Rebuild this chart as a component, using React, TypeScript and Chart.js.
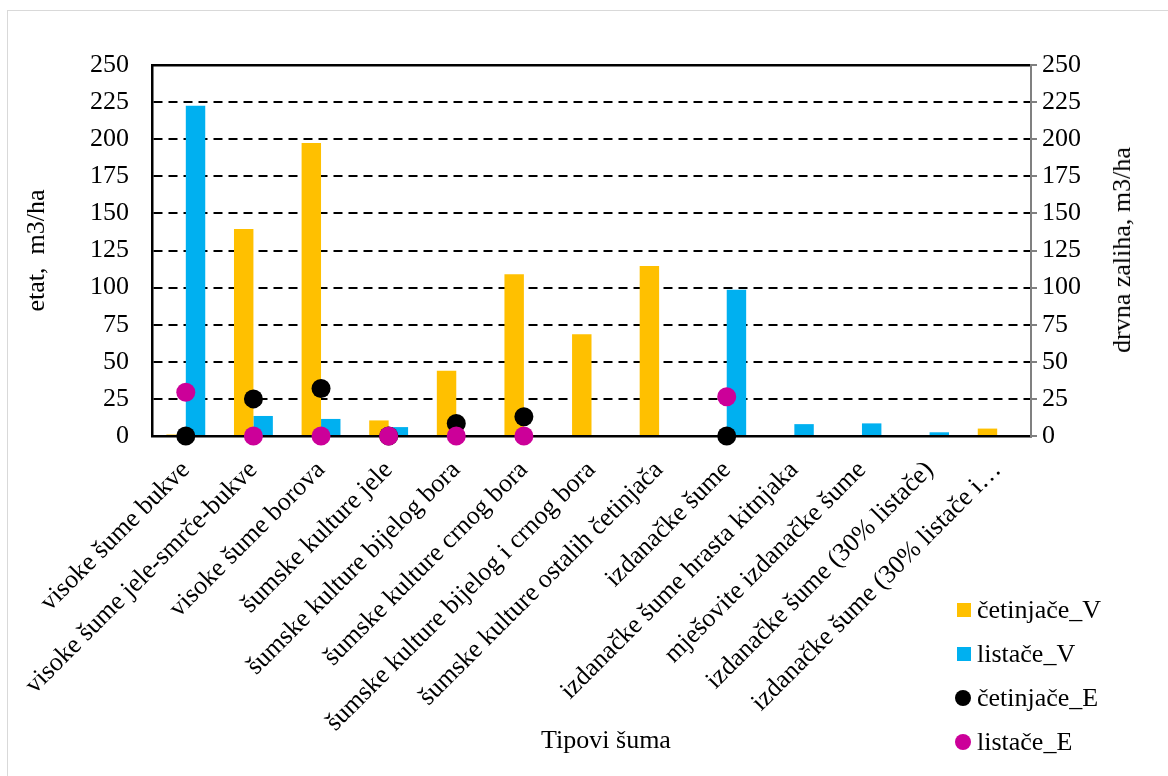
import React, { useEffect, useRef } from 'react';
import { Chart, registerables } from 'chart.js';

Chart.register(...registerables);

const categories = [
    'visoke šume bukve',
    'visoke šume jele-smrče-bukve',
    'visoke šume borova',
    'šumske kulture jele',
    'šumske kulture bijelog bora',
    'šumske kulture crnog bora',
    'šumske kulture bijelog i crnog bora',
    'šumske kulture ostalih četinjača',
    'izdanačke šume',
    'izdanačke šume hrasta kitnjaka',
    'mješovite izdanačke šume',
    'izdanačke šume (30% listače)',
    'izdanačke šume (30% listače i…',
];

// etat (left axis), bars
const cetinjaceV = [1, 139.5, 197.5, 10.5, 44, 109, 68.5, 114.5, 0, 0, 0, 0, 5];
const listaceV = [222.5, 13.5, 11.5, 6, 0, 0, 0, 0, 98.5, 8, 8.5, 2.5, 0];

// drvna zaliha (right axis), points
const cetinjaceE = [0, 25, 32, 0, 8.5, 13, null, null, 0, null, null, null, null];
const listaceE = [29.5, 0, 0, 0, 0, 0, null, null, 26.5, null, null, null, null];

const axisMin = 0;
const axisMax = 250;
const axisStep = 25;

const YELLOW = '#FFC000';
const BLUE = '#00B0F0';
const BLACK = '#000000';
const MAGENTA = '#CC0099';
const FONT = "'Liberation Serif', 'Times New Roman', serif";

const legendItems = [
    { label: 'četinjače_V', color: YELLOW, round: false },
    { label: 'listače_V', color: BLUE, round: false },
    { label: 'četinjače_E', color: BLACK, round: true },
    { label: 'listače_E', color: MAGENTA, round: true },
];

export default function App() {
    const canvasRef = useRef<HTMLCanvasElement>(null);

    useEffect(() => {
        if (!canvasRef.current) return;
        const tickFont = { family: FONT, size: 26 };
        const chart = new Chart(canvasRef.current, {
            type: 'bar',
            data: {
                labels: categories,
                datasets: [
                    {
                        type: 'line',
                        label: 'listače_E',
                        data: listaceE,
                        yAxisID: 'y2',
                        showLine: false,
                        pointRadius: 9.5,
                        pointBorderWidth: 0,
                        pointBackgroundColor: MAGENTA,
                        backgroundColor: MAGENTA,
                        borderColor: MAGENTA,
                        clip: false,
                        order: 1,
                    },
                    {
                        type: 'line',
                        label: 'četinjače_E',
                        data: cetinjaceE,
                        yAxisID: 'y2',
                        showLine: false,
                        pointRadius: 9.5,
                        pointBorderWidth: 0,
                        pointBackgroundColor: BLACK,
                        backgroundColor: BLACK,
                        borderColor: BLACK,
                        clip: false,
                        order: 2,
                    },
                    {
                        label: 'četinjače_V',
                        data: cetinjaceV,
                        yAxisID: 'y',
                        backgroundColor: YELLOW,
                        categoryPercentage: 0.575,
                        barPercentage: 1,
                        order: 3,
                    },
                    {
                        label: 'listače_V',
                        data: listaceV,
                        yAxisID: 'y',
                        backgroundColor: BLUE,
                        categoryPercentage: 0.575,
                        barPercentage: 1,
                        order: 3,
                    },
                ] as any,
            },
            options: {
                responsive: true,
                maintainAspectRatio: false,
                animation: false,
                layout: { padding: { top: 65, left: 0, right: 0, bottom: 0 } },
                plugins: {
                    legend: { display: false },
                    tooltip: { enabled: false },
                },
                scales: {
                    x: {
                        position: 'bottom',
                        grid: { display: false },
                        border: { color: BLACK, width: 2.5 },
                        ticks: {
                            autoSkip: false,
                            minRotation: 45,
                            maxRotation: 45,
                            padding: 11,
                            color: BLACK,
                            font: tickFont,
                        },
                        afterFit: (scale: any) => { scale.height = 340; },
                    },
                    xTop: {
                        position: 'top',
                        grid: { display: false, drawTicks: false },
                        border: { color: BLACK, width: 2.5 },
                        ticks: { display: false },
                        afterFit: (scale: any) => { scale.height = 0; },
                    },
                    y: {
                        position: 'left',
                        min: axisMin,
                        max: axisMax,
                        ticks: { stepSize: axisStep, padding: 23, color: BLACK, font: tickFont },
                        grid: {
                            drawTicks: false,
                            lineWidth: 2,
                            color: (ctx: any) =>
                                ctx.tick && (ctx.tick.value === axisMin || ctx.tick.value === axisMax)
                                    ? 'rgba(0,0,0,0)'
                                    : BLACK,
                        },
                        border: { color: BLACK, width: 2.5, dash: [9, 6] },
                        title: {
                            display: true,
                            text: 'etat,  m3/ha',
                            color: BLACK,
                            font: { family: FONT, size: 26 },
                            padding: { top: 22, bottom: 0 },
                        },
                        afterFit: (scale: any) => { scale.width = 152; },
                    },
                    y2: {
                        position: 'right',
                        min: axisMin,
                        max: axisMax,
                        ticks: { stepSize: axisStep, padding: 5, color: BLACK, font: tickFont },
                        grid: {
                            drawOnChartArea: false,
                            drawTicks: true,
                            tickLength: 6,
                            tickColor: '#808080',
                            lineWidth: 2,
                        },
                        border: { color: '#808080', width: 2 },
                        afterFit: (scale: any) => { scale.width = 137; },
                    },
                },
            } as any,
        });
        return () => chart.destroy();
    }, []);

    return (
        <div style={{ position: 'absolute', left: 0, top: 0, width: 1168, height: 776, background: '#fff', overflow: 'hidden', fontFamily: FONT }}>
            <div style={{ position: 'absolute', left: 7, top: 10, width: 1170, height: 780, borderLeft: '1.5px solid #d9d9d9', borderTop: '1.5px solid #d9d9d9' }} />
            <div style={{ position: 'absolute', left: 0, top: 0, width: 1168, height: 776 }}>
                <canvas ref={canvasRef}></canvas>
            </div>
            <div style={{ position: 'absolute', left: 1122, top: 250, transform: 'translate(-50%, -50%) rotate(-90deg)', whiteSpace: 'nowrap', fontSize: 26, color: BLACK }}>
                drvna zaliha, m3/ha
            </div>
            <div style={{ position: 'absolute', left: 606, top: 740, transform: 'translate(-50%, -50%)', whiteSpace: 'nowrap', fontSize: 26, color: BLACK }}>
                Tipovi šuma
            </div>
            {legendItems.map((item, i) => (
                <div key={item.label} style={{ position: 'absolute', left: 955, top: 610 + i * 44, transform: 'translateY(-50%)', display: 'flex', alignItems: 'center', whiteSpace: 'nowrap', fontSize: 26, lineHeight: '30px', color: BLACK }}>
                    <span style={{
                        display: 'inline-block',
                        width: item.round ? 16 : 14,
                        height: item.round ? 16 : 14,
                        marginLeft: item.round ? 0 : 2,
                        marginRight: 6,
                        borderRadius: item.round ? '50%' : 0,
                        background: item.color,
                    }} />
                    {item.label}
                </div>
            ))}
        </div>
    );
}
